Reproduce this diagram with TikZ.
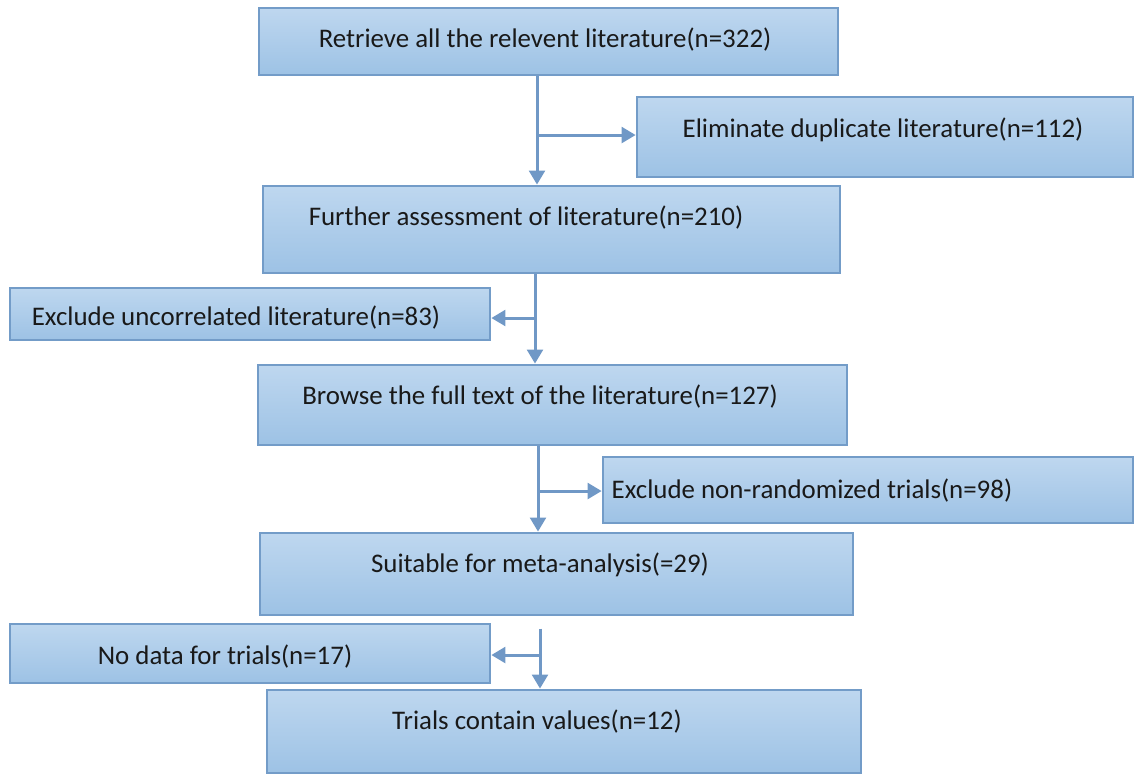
\documentclass[tikz,border=0pt]{standalone}
\usepackage{fontspec}
\setmainfont{Carlito}
\usetikzlibrary{arrows.meta}
\definecolor{boxtop}{RGB}{190,215,239}
\definecolor{boxbot}{RGB}{157,194,229}
\definecolor{boxedge}{RGB}{115,156,200}
\definecolor{flowline}{RGB}{112,152,198}
\begin{document}
\begin{tikzpicture}[x=0.02cm,y=-0.02cm]
    \tikzstyle{box}=[rectangle,draw=boxedge,line width=1.6pt,top color=boxtop,bottom color=boxbot,inner sep=0pt]
    \tikzstyle{txt}=[font=\fontsize{15.3}{18}\selectfont,text=black!90,inner sep=0pt]
    \tikzstyle{flow}=[draw=flowline,line width=1.7pt,-{Triangle[width=9pt,length=8pt]}]
    \useasboundingbox (0,0) rectangle (1135,775);

    \foreach \name/\x/\y/\w/\h in {b1/548.5/41.5/11.58/1.34, b2/885/137/9.92/1.6,
        b3/551.5/229.5/11.54/1.74, b4/250/314/9.6/1.04, b5/552.5/405/11.78/1.6,
        b6/868/490/10.6/1.32, b7/556.5/574/11.86/1.64, b8/250/653.5/9.6/1.18,
        b9/564/731.5/11.88/1.66}
            \node[box,minimum width=\w cm,minimum height=\h cm] (\name) at (\x,\y) {};

    \foreach \name/\x/\y/\t in {b1/545/40/{Retrieve all the relevent literature(n=322)},
        b2/883/130/{Eliminate duplicate literature(n=112)},
        b3/526/218/{Further assessment of literature(n=210)},
        b4/236/318/{Exclude uncorrelated literature(n=83)},
        b5/540/397/{Browse the full text of the literature(n=127)},
        b6/812/491/{Exclude non-randomized trials(n=98)},
        b7/540/565/{Suitable for meta-analysis(=29)},
        b8/225/657/{No data for trials(n=17)},
        b9/537/722/{Trials contain values(n=12)}}
            \node[txt] (\name-t) at (\x,\y) {\t};

    \coordinate (j1) at (537,135);
    \coordinate (j2) at (535,318);
    \coordinate (j3) at (538,491);
    \coordinate (j4) at (540,655);

    \draw[flow] (b1.south -| j1) -- (j1 |- b3.north);
    \draw[flow] (j1) -- (j1 -| b2.west);
    \draw[flow] (b3.south -| j2) -- (j2 |- b5.north);
    \draw[flow] (j2) -- (j2 -| b4.east);
    \draw[flow] (b5.south -| j3) -- (j3 |- b7.north);
    \draw[flow] (j3) -- (j3 -| b6.west);
    \draw[flow,shorten <=7pt] (b7.south -| j4) -- (j4 |- b9.north);
    \draw[flow] (j4) -- (j4 -| b8.east);
\end{tikzpicture}
\end{document}
